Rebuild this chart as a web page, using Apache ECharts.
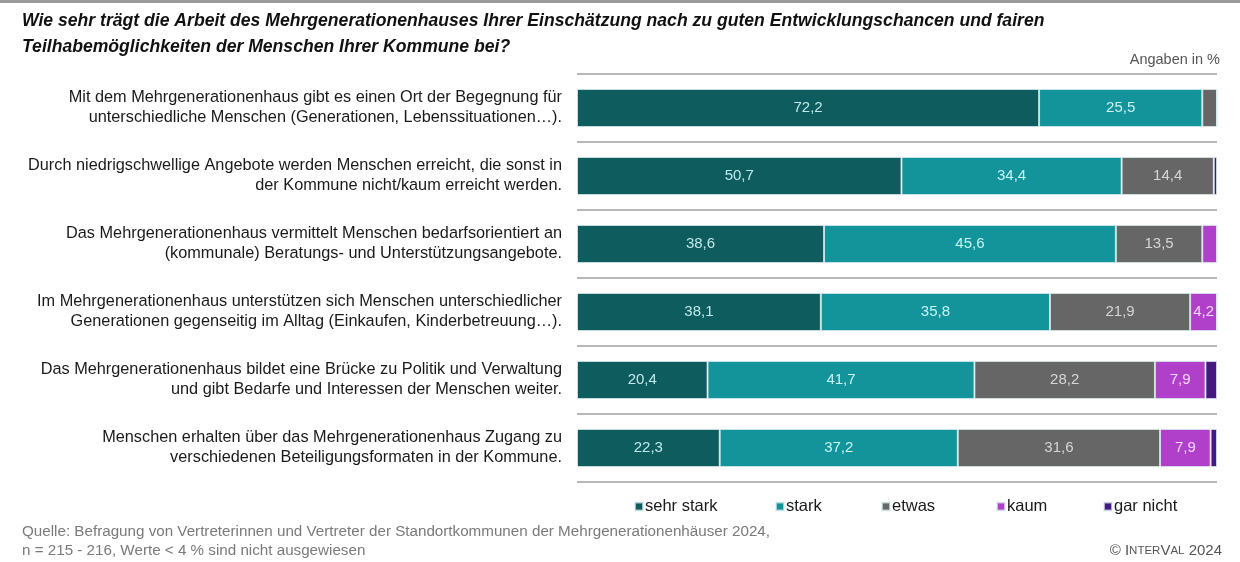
<!DOCTYPE html>
<html><head><meta charset="utf-8">
<script src="https://cdn.jsdelivr.net/npm/echarts@6/dist/echarts.min.js"></script>
<style>html,body{margin:0;padding:0;background:#fff}#c{width:1240px;height:562px}</style>
</head><body><div id="c"></div>
<script>
const categories = [
  "Mit dem Mehrgenerationenhaus gibt es einen Ort der Begegnung für\nunterschiedliche Menschen (Generationen, Lebenssituationen…).",
  "Durch niedrigschwellige Angebote werden Menschen erreicht, die sonst in\nder Kommune nicht/kaum erreicht werden.",
  "Das Mehrgenerationenhaus vermittelt Menschen bedarfsorientiert an\n(kommunale) Beratungs- und Unterstützungsangebote.",
  "Im Mehrgenerationenhaus unterstützen sich Menschen unterschiedlicher\nGenerationen gegenseitig im Alltag (Einkaufen, Kinderbetreuung…).",
  "Das Mehrgenerationenhaus bildet eine Brücke zu Politik und Verwaltung\nund gibt Bedarfe und Interessen der Menschen weiter.",
  "Menschen erhalten über das Mehrgenerationenhaus Zugang zu\nverschiedenen Beteiligungsformaten in der Kommune."
];
const seriesNames = ["sehr stark", "stark", "etwas", "kaum", "gar nicht"];
const sehrStark = [72.2, 50.7, 38.6, 38.1, 20.4, 22.3];
const stark     = [25.5, 34.4, 45.6, 35.8, 41.7, 37.2];
const etwas     = [2.3, 14.4, 13.5, 21.9, 28.2, 31.6];
const kaum      = [0, 0, 2.3, 4.2, 7.9, 7.9];
const garNicht  = [0, 0.5, 0, 0, 1.8, 1.0];
const colors = ["#0e5c5e", "#13939a", "#666666", "#b03fca", "#45197f"];
const labelColors = ["#bfe9ea", "#c9f3f5", "#d6d6d6", "#f2d8fa", "#e0d0f5"];
const legendLeft = [634, 775, 881, 996, 1103];

const chart = echarts.init(document.getElementById('c'));
const dataSets = [sehrStark, stark, etwas, kaum, garNicht];
const series = dataSets.map((d, i) => ({
  name: seriesNames[i],
  type: 'bar',
  stack: 'total',
  barWidth: 38,
  data: d,
  itemStyle: { color: colors[i], borderColor: 'rgba(220,240,240,0.7)', borderWidth: 1 },
  label: {
    show: true,
    position: 'inside',
    color: labelColors[i],
    fontFamily: 'Liberation Sans',
    fontSize: 15,
    formatter: p => p.value >= 4 ? p.value.toFixed(1).replace('.', ',') : ''
  }
}));

chart.setOption({
  animation: false,
  color: colors,
  grid: { left: 577, right: 23, top: 74, bottom: 80 },
  xAxis: { type: 'value', min: 0, max: 100, show: false },
  yAxis: {
    type: 'category', data: categories, inverse: true,
    axisLine: { show: false }, axisTick: { show: false },
    splitLine: { show: true, lineStyle: { color: '#b8b8b8', width: 2 } },
    axisLabel: { color: '#1a1a1a', fontFamily: 'Liberation Sans', fontSize: 16.3, lineHeight: 20, align: 'right', margin: 15, padding: [4, 0, 0, 0] }
  },
  legend: seriesNames.map((n, i) => ({
    data: [n], left: legendLeft[i], top: 498, padding: 0, itemWidth: 8, itemHeight: 8,
    icon: 'rect', itemGap: 0,
    textStyle: { color: '#1a1a1a', fontFamily: 'Liberation Sans', fontSize: 16.5, padding: [2,0,0,-3] }
  })),
  graphic: [
    { type: 'rect', shape: { x: 0, y: 0, width: 1240, height: 3 }, style: { fill: '#9a9a9a' } },
    { type: 'text', left: 22, top: 8, style: { text: 'Wie sehr trägt die Arbeit des Mehrgenerationenhauses Ihrer Einschätzung nach zu guten Entwicklungschancen und fairen\nTeilhabemöglichkeiten der Menschen Ihrer Kommune bei?', font: 'italic bold 17.6px "Liberation Sans"', fill: '#111', lineHeight: 26 } },
    { type: 'text', right: 20, top: 52, style: { text: 'Angaben in %', font: '14.5px "Liberation Sans"', fill: '#555' } },
    { type: 'text', left: 22, top: 522, style: { text: 'Quelle: Befragung von Vertreterinnen und Vertreter der Standortkommunen der Mehrgenerationenhäuser 2024,\nn = 215 - 216, Werte < 4 % sind nicht ausgewiesen', font: '15.2px "Liberation Sans"', fill: '#7a7a7a', lineHeight: 19 } },
    { type: 'text', right: 18, top: 543, style: { text: '{a|© I}{b|NTER}{a|V}{b|AL}{a| 2024}', rich: { a: { fontFamily: 'Liberation Sans', fontSize: 15, fill: '#555' }, b: { fontFamily: 'Liberation Sans', fontSize: 11.5, fill: '#555' } } } }
  ],
  series: series
});
</script></body></html>
